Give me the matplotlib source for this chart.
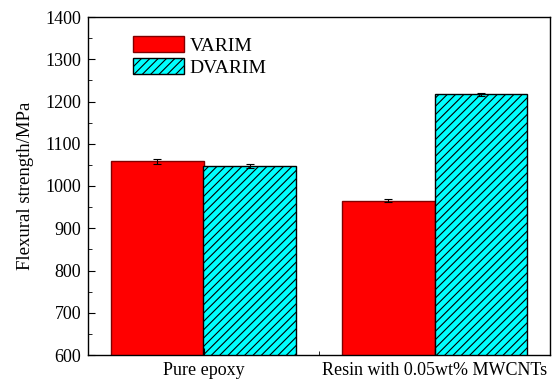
import matplotlib.pyplot as plt
from matplotlib.ticker import MultipleLocator, FixedLocator

plt.rcParams['font.family'] = ['Liberation Serif', 'DejaVu Serif']
plt.rcParams['hatch.linewidth'] = 0.8

groups = ["Pure epoxy", "Resin with 0.05wt% MWCNTs"]
varim = [1058, 965]
varim_err = [7, 4]
dvarim = [1047, 1217]
dvarim_err = [5, 3]

x = [1, 2]
w = 0.4

fig = plt.figure(figsize=(5.52, 3.8), dpi=100)
ax = fig.add_axes([88 / 552, 25 / 380, 462 / 552, 338 / 380])

ax.bar([i - w / 2 for i in x], varim, w, yerr=varim_err, color="#ff0000",
       edgecolor="#800000", linewidth=1.0, label="VARIM",
       error_kw=dict(ecolor="black", elinewidth=0.8, capsize=3, capthick=0.8))
ax.bar([i + w / 2 for i in x], dvarim, w, yerr=dvarim_err, color="#00ffff",
       edgecolor="black", linewidth=1.0, hatch="////", label="DVARIM",
       error_kw=dict(ecolor="black", elinewidth=0.8, capsize=3, capthick=0.8))

ax.set_xlim(0.5, 2.5)
ax.set_ylim(600, 1400)
ax.set_xticks(x)
ax.set_xticklabels(groups, fontsize=13)
ax.xaxis.set_minor_locator(FixedLocator([1.5]))
ax.yaxis.set_major_locator(MultipleLocator(100))
ax.yaxis.set_minor_locator(MultipleLocator(50))
ax.tick_params(axis="both", which="both", direction="in", labelsize=13)
ax.tick_params(which="major", length=5)
ax.tick_params(which="minor", length=3)
ax.tick_params(axis="x", which="both", pad=5)
ax.tick_params(axis="y", which="both", pad=5)
ax.set_ylabel("Flexural strength/MPa", fontsize=13.5, labelpad=8)

for s in ax.spines.values():
    s.set_linewidth(1.0)

ax.legend(loc="upper left", bbox_to_anchor=(0.06, 0.995), frameon=False,
          fontsize=14, handlelength=2.6, handleheight=0.9,
          labelspacing=0.15, handletextpad=0.3, borderaxespad=0.5)

fig.savefig("out.png", dpi=100)
